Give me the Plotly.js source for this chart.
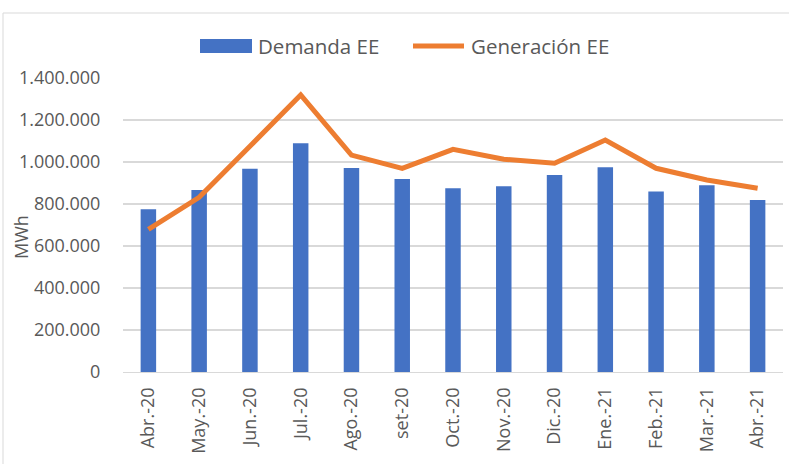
<!DOCTYPE html>
<html>
<head>
<meta charset="utf-8">
<script src="https://cdn.plot.ly/plotly-3.0.1.min.js"></script>
<style>html,body{margin:0;padding:0;background:#fff;}#chart{width:789px;height:464px;}</style>
</head>
<body>
<div id="chart"></div>
<script>
var categories = ["Abr.-20","May.-20","Jun.-20","Jul.-20","Ago.-20","set-20","Oct.-20","Nov.-20","Dic.-20","Ene.-21","Feb.-21","Mar.-21","Abr.-21"];
var demanda = [775000, 867000, 968000, 1089000, 971000, 919000, 875000, 884000, 938000, 975000, 859000, 889000, 819000];
var generacion = [679000, 832000, 1075000, 1319000, 1033000, 970000, 1060000, 1013000, 994000, 1105000, 970000, 914000, 875000];
var seriesNames = ["Demanda EE", "Generación EE"];
var yTitle = "MWh";

var W = 789, H = 464;
var L = 123, R = 6, T = 78, B = 92;
var pw = W - L - R, ph = H - T - B;
function px(x){ return (x - L) / pw; }
function py(y){ return (H - B - y) / ph; }

var font = "Open Sans, Segoe UI, sans-serif";
var txtColor = "#595959";

var traces = [
  {type:"bar", x:categories, y:demanda, name:seriesNames[0], marker:{color:"#4472C4"}, showlegend:false, hoverinfo:"x+y"},
  {type:"scatter", mode:"lines", x:categories, y:generacion, name:seriesNames[1], line:{color:"#ED7D31", width:5}, showlegend:false}
];

var layout = {
  width: W, height: H,
  margin: {l:L, r:R, t:T, b:B, pad:0},
  paper_bgcolor:"#fff", plot_bgcolor:"#fff",
  separators: ",.",
  bargap: 0.695,
  showlegend:false,
  font:{family:font, color:txtColor, size:18},
  xaxis:{
    type:"category", tickangle:-90, showgrid:false, zeroline:false,
    showline:true, linecolor:"#d9d9d9", linewidth:1.3,
    ticks:"outside", ticklen:7, tickcolor:"rgba(0,0,0,0)",
    tickfont:{family:font, size:18, color:txtColor}
  },
  yaxis:{
    range:[0,1400000], dtick:200000, tickformat:",d",
    showgrid:true, gridcolor:"#d9d9d9", gridwidth:1.3, zeroline:false,
    showline:false, ticks:"outside", ticklen:18, tickcolor:"rgba(0,0,0,0)",
    tickfont:{family:font, size:18, color:txtColor}
  },
  shapes:[
    {type:"rect", xref:"paper", yref:"paper", x0:px(3), x1:px(800), y0:py(480), y1:py(13), line:{color:"#d9d9d9", width:1}, fillcolor:"rgba(0,0,0,0)", layer:"below"},
    {type:"rect", xref:"paper", yref:"paper", x0:px(200), x1:px(252), y0:py(53), y1:py(39), line:{width:0}, fillcolor:"#4472C4"},
    {type:"line", xref:"paper", yref:"paper", x0:px(413), x1:px(464), y0:py(46), y1:py(46), line:{color:"#ED7D31", width:5}}
  ],
  annotations:[
    {xref:"paper", yref:"paper", x:px(256), y:py(46), text:seriesNames[0], showarrow:false, xanchor:"left", yanchor:"middle", font:{family:font, size:20.5, color:txtColor}},
    {xref:"paper", yref:"paper", x:px(469), y:py(46), text:seriesNames[1], showarrow:false, xanchor:"left", yanchor:"middle", font:{family:font, size:20.5, color:txtColor}},
    {xref:"paper", yref:"paper", x:px(21), y:py(237), text:yTitle, textangle:-90, showarrow:false, xanchor:"center", yanchor:"middle", font:{family:font, size:18, color:txtColor}}
  ]
};

Plotly.newPlot("chart", traces, layout, {displayModeBar:false, staticPlot:true});
</script>
</body>
</html>
